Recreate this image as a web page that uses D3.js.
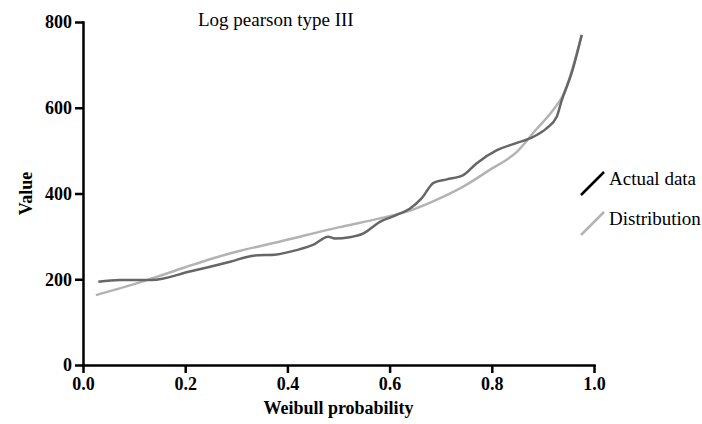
<!DOCTYPE html>
<html>
<head>
<meta charset="utf-8">
<title>Log pearson type III</title>
<script src="https://d3js.org/d3.v7.min.js"></script>
<style>
  body { margin: 0; background: #fff; }
  svg { display: block; font-family: "Liberation Serif", "Times New Roman", serif; }
  .axis path, .axis line { stroke: #000; stroke-width: 2.5px; }
  .axis text { font-family: "Liberation Serif", "Times New Roman", serif; font-size: 18px; font-weight: bold; fill: #000; }
</style>
</head>
<body>
<div id="chart"></div>
<script>
// Actual data (Weibull plotting positions)
const actualP = [0.03, 0.072, 0.134, 0.209, 0.288, 0.333, 0.379, 0.418, 0.45, 0.48, 0.493,
  0.522, 0.549, 0.581, 0.614, 0.64, 0.663, 0.686, 0.712, 0.744, 0.77, 0.81, 0.849,
  0.881, 0.907, 0.927, 0.937, 0.956, 0.976];
const actualV = [194, 198, 198, 218, 241, 255, 258, 268, 280, 299, 295,
  298, 307, 334, 350, 365, 389, 425, 433, 443, 470, 501, 518,
  532, 552, 579, 618, 680, 770];

// Fitted log pearson type III distribution
const distP = [0.025, 0.125, 0.2, 0.255, 0.3, 0.386, 0.5, 0.581, 0.64, 0.699, 0.744,
  0.796, 0.849, 0.886, 0.92, 0.94, 0.976];
const distV = [163, 198, 228, 249, 264, 288, 321, 342, 360, 389, 416,
  455, 497, 548, 595, 630, 770];

const xTicks = [0, 0.2, 0.4, 0.6, 0.8, 1.0];
const yTicks = [0, 200, 400, 600, 800];

const width = 702, height = 424;
const margin = { top: 22, right: 108, bottom: 59, left: 83 };

const svg = d3.select("#chart").append("svg")
  .attr("width", width)
  .attr("height", height);

const x = d3.scaleLinear().domain([0, 1]).range([margin.left, width - margin.right]);
const y = d3.scaleLinear().domain([0, 800]).range([height - margin.bottom, margin.top]);

const line = d3.line()
  .x(d => x(d[0]))
  .y(d => y(d[1]))
  .curve(d3.curveMonotoneX);

svg.append("path")
  .datum(distP.map((p, i) => [p, distV[i]]))
  .attr("fill", "none")
  .attr("stroke", "#b3b3b3")
  .attr("stroke-width", 2.5)
  .attr("d", line);

svg.append("path")
  .datum(actualP.map((p, i) => [p, actualV[i]]))
  .attr("fill", "none")
  .attr("stroke", "#666")
  .attr("stroke-width", 2.5)
  .attr("d", line);

// axes
svg.append("g")
  .attr("class", "axis")
  .attr("transform", `translate(0,${y(0)})`)
  .call(d3.axisBottom(x).tickValues(xTicks).tickFormat(d3.format(".1f")).tickSize(8).tickSizeOuter(0).tickPadding(4));

svg.append("g")
  .attr("class", "axis")
  .attr("transform", `translate(${x(0)},0)`)
  .call(d3.axisLeft(y).tickValues(yTicks).tickSize(8).tickSizeOuter(0).tickPadding(3));

svg.selectAll(".axis").attr("font-family", null);
svg.selectAll(".axis .domain").attr("stroke-linecap", "square");

// titles
svg.append("text")
  .attr("x", 198).attr("y", 26)
  .attr("font-size", 19)
  .text("Log pearson type III");

svg.append("text")
  .attr("x", x(0.5)).attr("y", 414)
  .attr("text-anchor", "middle")
  .attr("font-size", 18).attr("font-weight", "bold")
  .text("Weibull probability");

svg.append("text")
  .attr("transform", `translate(32,${y(400)}) rotate(-90)`)
  .attr("text-anchor", "middle")
  .attr("font-size", 18).attr("font-weight", "bold")
  .text("Value");

// legend
const legend = [
  { name: "Actual data", color: "#000", y: 185 },
  { name: "Distribution", color: "#b3b3b3", y: 225 }
];
const lg = svg.append("g").selectAll("g").data(legend).join("g");
lg.append("line")
  .attr("x1", 581).attr("y1", d => d.y + 10)
  .attr("x2", 604).attr("y2", d => d.y - 13)
  .attr("stroke", d => d.color)
  .attr("stroke-width", 2.5);
lg.append("text")
  .attr("x", 609).attr("y", d => d.y)
  .attr("font-size", 19)
  .text(d => d.name);
</script>
</body>
</html>
